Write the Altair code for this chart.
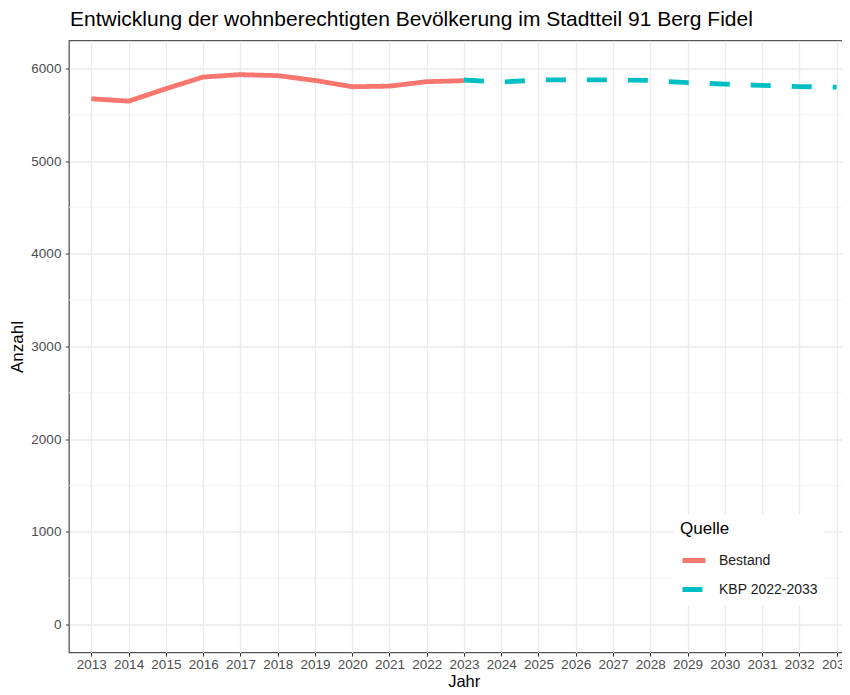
import altair as alt
import pandas as pd

years_bestand = [2013, 2014, 2015, 2016, 2017, 2018, 2019, 2020, 2021, 2022, 2023]
bestand = [5671, 5646, 5780, 5906, 5932, 5921, 5870, 5801, 5808, 5856, 5867]

years_kbp = [2023, 2024, 2025, 2026, 2027, 2028, 2029, 2030, 2031, 2032, 2033]
kbp = [5874, 5852, 5874, 5877, 5874, 5870, 5845, 5830, 5816, 5803, 5797]

series_names = ["Bestand", "KBP 2022-2033"]
series_colors = ["#F8766D", "#00BFC4"]

year_ticks = list(range(2013, 2034))
y_major = [0, 1000, 2000, 3000, 4000, 5000, 6000]
y_minor = [500, 1500, 2500, 3500, 4500, 5500]

df = pd.concat([
    pd.DataFrame({"Jahr": years_bestand, "Anzahl": bestand, "Quelle": series_names[0]}),
    pd.DataFrame({"Jahr": years_kbp, "Anzahl": kbp, "Quelle": series_names[1]}),
])
minor_df = pd.DataFrame({"Anzahl": y_minor})

FONT = "Liberation Sans"

x_scale = alt.Scale(domain=[2012.4, 2033.36], nice=False, zero=False)
y_scale = alt.Scale(domain=[-300, 6300], nice=False, zero=False)

y_axis = alt.Axis(
    values=y_major, format="d", title="Anzahl",
    grid=True, gridColor="#EBEBEB", gridWidth=1.3,
    domain=False, tickColor="#333333", tickSize=3.6, tickWidth=1,
    labelColor="#4D4D4D", labelFontSize=13.5, labelFont=FONT, labelPadding=4.5,
    titleFont=FONT, titleFontSize=17, titleFontWeight="normal", titleColor="#000000",
    titleAngle=270, titleBaseline="alphabetic", titleX=-47, titleY=306, titleAlign="center",
)

minor = alt.Chart(minor_df).mark_rule(color="#F3F3F3", strokeWidth=0.8).encode(
    y=alt.Y("Anzahl:Q", scale=y_scale, axis=y_axis)
)

lines = alt.Chart(df).mark_line(strokeWidth=4.8, strokeCap="butt", clip=True).encode(
    x=alt.X(
        "Jahr:Q",
        scale=x_scale,
        axis=alt.Axis(
            values=year_ticks, format="d", title="Jahr",
            grid=True, gridColor="#EBEBEB", gridWidth=1.3,
            domain=False, tickColor="#333333", tickSize=3.6, tickWidth=1,
            labelColor="#4D4D4D", labelFontSize=13.5, labelFont=FONT,
            labelPadding=1, labelFlush=False, labelOverlap=False,
            titleFont=FONT, titleFontSize=16.5, titleFontWeight="normal", titleColor="#000000",
            titleBaseline="alphabetic", titleX=394.7, titleY=33.5, titleAlign="center",
        ),
    ),
    y=alt.Y("Anzahl:Q", scale=y_scale, axis=y_axis),
    color=alt.Color(
        "Quelle:N",
        scale=alt.Scale(domain=series_names, range=series_colors),
        legend=alt.Legend(
            title="Quelle", orient="none", legendX=605, legendY=474,
            fillColor="#FFFFFF", padding=6,
            symbolType="stroke", symbolStrokeWidth=5, symbolSize=529,
            titleFont=FONT, titleFontSize=17, titleFontWeight="normal", titleColor="#000000",
            titlePadding=9,
            labelFont=FONT, labelFontSize=14, labelColor="#1A1A1A", labelOffset=11,
            rowPadding=5,
        ),
    ),
    strokeDash=alt.StrokeDash(
        "Quelle:N",
        scale=alt.Scale(domain=series_names, range=[[1, 0], [20, 21]]),
        legend=None,
    ),
    detail="Quelle:N",
)

chart = alt.layer(minor, lines).properties(
    width=781,
    height=612,
    autosize=alt.AutoSizeParams(type="none"),
    padding={"left": 61, "top": 32.5, "right": -8, "bottom": 34.5},
    view=alt.ViewBackground(stroke="#555555", strokeWidth=1.3),
    title=alt.TitleParams(
        "Entwicklung der wohnberechtigten Bevölkerung im Stadtteil 91 Berg Fidel",
        anchor="start", frame="group", font=FONT, fontSize=21, fontWeight="normal",
        color="#000000", baseline="alphabetic", offset=12.5, dx=1, dy=19,
    ),
).configure_view(
    stroke="#555555", strokeWidth=1.3
).configure(background="#FFFFFF")

chart.save("out.html", embed_options={"renderer": "svg", "actions": False})
